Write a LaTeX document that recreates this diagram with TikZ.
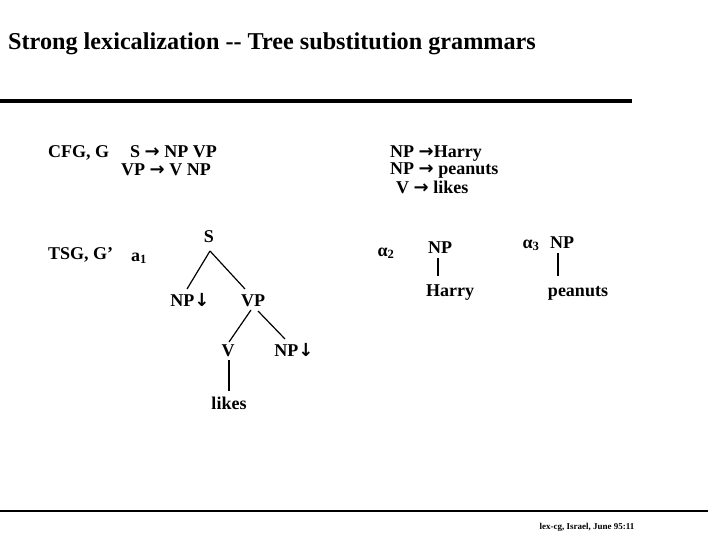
\documentclass[tikz,border=0pt]{standalone}
\usepackage{fontspec}
\setmainfont{Liberation Serif}
\newfontfamily\arrowfont{DejaVu Sans}
\newcommand{\rarr}{{\arrowfont\bfseries →}}
\newcommand{\darr}{{\arrowfont\bfseries ↓}}
\begin{document}
\begin{tikzpicture}[x=1pt,y=-1pt,
  txt/.style={inner sep=0pt,text height=12pt,text depth=0pt,font=\fontsize{18}{20}\selectfont\bfseries},
  edge/.style={line width=1.2pt},
  every node/.style={inner sep=0pt}]
\useasboundingbox (0,0) rectangle (720,540);
% title
\node[anchor=west,font=\fontsize{24.2}{26}\selectfont\bfseries] (title) at (8,44) {Strong lexicalization -{}- Tree substitution grammars};
\draw[line width=4pt] (0,101) -- (632,101);
% CFG rules
\node[txt,anchor=west] (cfg) at (48,152) {CFG, G};
\node[txt,anchor=west] (r1) at (130,152) {S \rarr\ NP VP};
\node[txt,anchor=west] (r2) at (121,170) {VP \rarr\ V NP};
\node[txt,anchor=west] (r3) at (390,152) {NP \rarr Harry};
\node[txt,anchor=west] (r4) at (390,169) {NP \rarr\ peanuts};
\node[txt,anchor=west] (r5) at (396,188) {V \rarr\ likes};
% TSG
\node[txt,anchor=west] (tsg) at (48,253) {TSG, G’};
\node[txt,anchor=west] (a1) at (131,255) {a\textsubscript{1}};
% tree alpha1
\node[txt] (S) at (209,236) {S};
\node[txt] (NP1) at (190,300) {NP\darr};
\node[txt] (VP) at (253,300) {VP};
\node[txt] (V) at (228,350) {V};
\node[txt] (NP2) at (294,350) {NP\darr};
\node[txt] (likes) at (229,403) {likes};
\coordinate (Sb) at (210,251);
\draw[edge] (Sb) -- (187,289);
\draw[edge] (Sb) -- (245,289);
\draw[edge] (251,310) -- (229,342);
\draw[edge] (258,311) -- (285,339);
\draw[edge] (229,360) -- (229,391);
% alpha2
\node[txt] (al2) at (386,250) {α\textsubscript{2}};
\node[txt] (NPh) at (440,247) {NP};
\node[txt] (harry) at (450,290) {Harry};
\draw[edge] (438,258) -- (438,276);
% alpha3
\node[txt] (al3) at (531,242) {α\textsubscript{3}};
\node[txt] (NPp) at (562,242) {NP};
\node[txt] (peanuts) at (578,290) {peanuts};
\draw[edge] (558,253) -- (558,276);
% footer
\draw[line width=1.2pt] (0,511) -- (708,511);
\node[font=\fontsize{9}{10}\selectfont\bfseries] (foot) at (587,527) {lex-cg, Israel, June 95:11};
\end{tikzpicture}
\end{document}
